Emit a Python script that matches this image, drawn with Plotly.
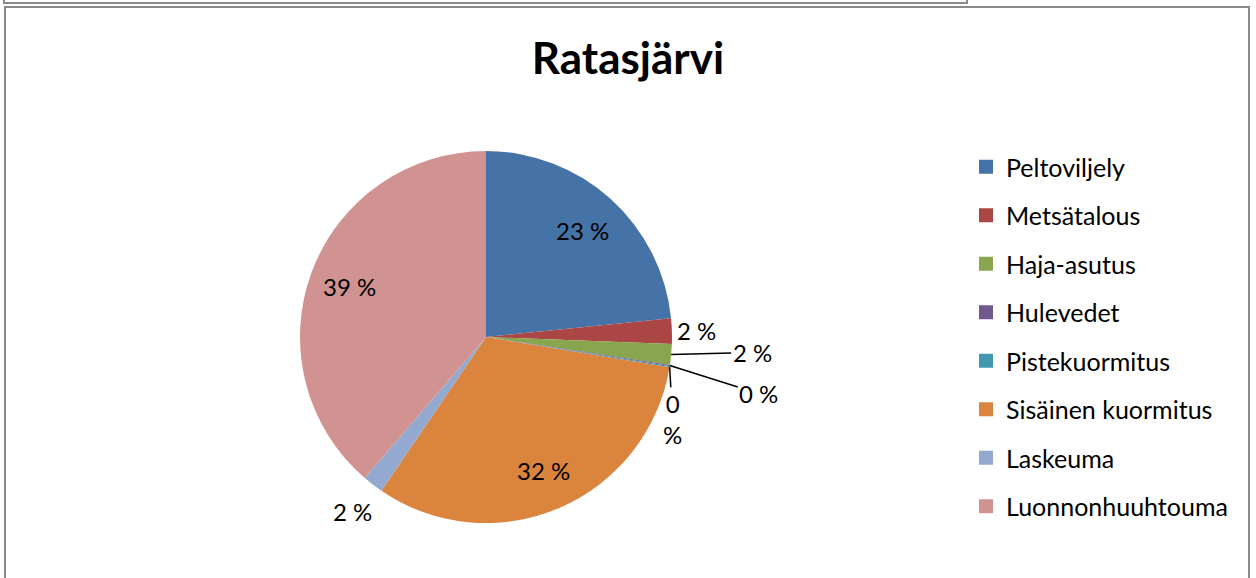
import math
import plotly.graph_objects as go

# ---------------- data ----------------
categories = ["Peltoviljely", "Metsätalous", "Haja-asutus", "Hulevedet",
              "Pistekuormitus", "Sisäinen kuormitus", "Laskeuma", "Luonnonhuuhtouma"]
shares = [23.4, 2.2, 1.8, 0.1, 0.1, 31.9, 1.8, 38.7]
colors = ["#4572A7", "#AA4643", "#89A54E", "#71588F",
          "#4198AF", "#DB843D", "#93A9CF", "#D19392"]
title_text = "Ratasjärvi"

# ---------------- layout constants ----------------
W, H = 1256, 578
CX, CY, R = 486, 337, 186
FONT = "Lato"
# label placement style per slice: ("in", radius fraction) | ("out", extra px) | ("line", dx, dy, wrap)
placements = [("in", 0.77), ("out", 25), ("line", 81, -2, False), ("line", 89, 28, False),
              ("line", 3, 52, True), ("in", 0.78), ("out", 34), ("in", 0.78)]

total = sum(shares)
pct_text = [f"{round(v / total * 100)} %" for v in shares]

fig = go.Figure()
fig.add_trace(go.Pie(
    labels=categories, values=shares, sort=False, direction="clockwise", rotation=0,
    marker=dict(colors=colors, line=dict(width=0)), textinfo="none", showlegend=False,
    domain=dict(x=[(CX - R) / W, (CX + R) / W], y=[1 - (CY + R) / H, 1 - (CY - R) / H]),
    hoverinfo="label+percent",
))

# legend entries (one per category)
for c, col in zip(categories, colors):
    fig.add_trace(go.Scatter(x=[None], y=[None], mode="markers", name=c, legendgroup=c,
                             marker=dict(symbol="square", size=14, color=col, line=dict(width=0)),
                             hoverinfo="skip", showlegend=True))

# data labels computed from slice geometry
annotations = []
cum = 0.0
for v, txt, pl in zip(shares, pct_text, placements):
    mid = (cum + v / 2) / total * 2 * math.pi
    cum += v
    sx, sy = math.sin(mid), -math.cos(mid)
    lab_font = dict(family=FONT, size=24, color="black")
    if pl[0] == "in":
        r = pl[1] * R
        annotations.append(dict(x=CX + r * sx, y=CY + r * sy, xref="x", yref="y", text=txt,
                                showarrow=False, font=lab_font, xanchor="center", yanchor="middle"))
    elif pl[0] == "out":
        r = R + pl[1]
        annotations.append(dict(x=CX + r * sx, y=CY + r * sy, xref="x", yref="y", text=txt,
                                showarrow=False, font=lab_font, xanchor="center", yanchor="middle"))
    else:
        t = txt.replace(" ", "<br>") if pl[3] else txt
        annotations.append(dict(x=CX + R * sx, y=CY + R * sy, xref="x", yref="y", text=t,
                                showarrow=True, arrowhead=0, arrowwidth=1.5, arrowcolor="black",
                                ax=pl[1], ay=pl[2], standoff=0, startstandoff=0,
                                font=lab_font, xanchor="center", yanchor="middle"))

shapes = [
    dict(type="rect", xref="x", yref="y", x0=5, y0=7, x1=1249, y1=H + 20,
         line=dict(color="#8a8a8a", width=2), fillcolor="rgba(0,0,0,0)", layer="below"),
    dict(type="rect", xref="x", yref="y", x0=4, y0=-20, x1=967, y1=3,
         line=dict(color="#8a8a8a", width=2), fillcolor="rgba(0,0,0,0)", layer="below"),
]

fig.update_layout(
    width=W, height=H, margin=dict(l=0, r=0, t=0, b=0),
    paper_bgcolor="white", plot_bgcolor="white",
    xaxis=dict(range=[0, W], visible=False, domain=[0, 1], fixedrange=True),
    yaxis=dict(range=[H, 0], visible=False, domain=[0, 1], fixedrange=True),
    title=dict(text=f"<b>{title_text}</b>", x=0.5, y=1 - 59 / H, xanchor="center", yanchor="middle",
               font=dict(family=FONT, size=44, color="black")),
    legend=dict(x=966 / W, y=1 - 144 / H, xanchor="left", yanchor="top",
                font=dict(family=FONT, size=25, color="black"), tracegroupgap=13,
                itemsizing="trace", bgcolor="rgba(0,0,0,0)"),
    showlegend=True,
    annotations=annotations, shapes=shapes,
)

fig.write_html("out.html", config={"displayModeBar": False},
               post_script="document.body.style.margin='0px';document.body.style.overflow='hidden';")
